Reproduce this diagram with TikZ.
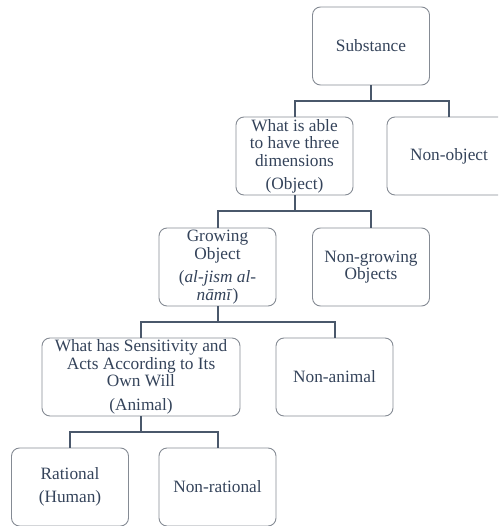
\documentclass[tikz,border=0pt]{standalone}
\usepackage{fontspec}
\setmainfont{Liberation Serif}
\usetikzlibrary{positioning}
\definecolor{slate}{HTML}{34435A}
\definecolor{edgegray}{HTML}{858B94}
\definecolor{linkslate}{HTML}{4A586B}

\begin{document}
\begin{tikzpicture}[
    x=1pt, y=-1pt,
    box/.style={draw=edgegray, line width=0.9pt, rounded corners=8pt, align=center, inner sep=0pt,
        minimum width=117pt, minimum height=78pt, text=slate,
        font=\fontsize{17.3}{17.5}\selectfont},
    wide/.style={box, minimum width=198pt},
    link/.style={draw=linkslate, line width=2pt}
]
\useasboundingbox (0,0) rectangle (498,526);
\clip (0,0) rectangle (498,526);
\node[box] (substance) at (371,46) {Substance};
\node[box] (object) at (294.5,156) {What is able\\to have three\\dimensions\\[5.5pt](Object)};
\node[box, minimum width=124pt] (nonobject) at (449,156) {Non-object};
\node[box] (growing) at (217.5,267) {Growing\\Object\\[6pt](\textit{al-jism al-}\\\textit{nāmī})};
\node[box] (nongrowing) at (371,267) {Non-growing\\Objects};
\node[wide] (animal) at (141,377) {What has Sensitivity and\\Acts According to Its\\Own Will\\[6pt](Animal)};
\node[box] (nonanimal) at (334.5,377) {Non-animal};
\node[box] (rational) at (70,487) {Rational\\[6pt](Human)};
\node[box] (nonrational) at (217.5,487) {Non-rational};
\draw[link] (substance.south) -- ++(0,15.5) -| (object.north);
\draw[link] (substance.south) -- ++(0,15.5) -| (nonobject.north);
\draw[link] (object.south) -- ++(0,15.5) -| (growing.north);
\draw[link] (object.south) -- ++(0,15.5) -| (nongrowing.north);
\draw[link] (growing.south) -- ++(0,15.5) -| (animal.north);
\draw[link] (growing.south) -- ++(0,15.5) -| (nonanimal.north);
\draw[link] (animal.south) -- ++(0,15.5) -| (rational.north);
\draw[link] (animal.south) -- ++(0,15.5) -| (nonrational.north);
\end{tikzpicture}
\end{document}
